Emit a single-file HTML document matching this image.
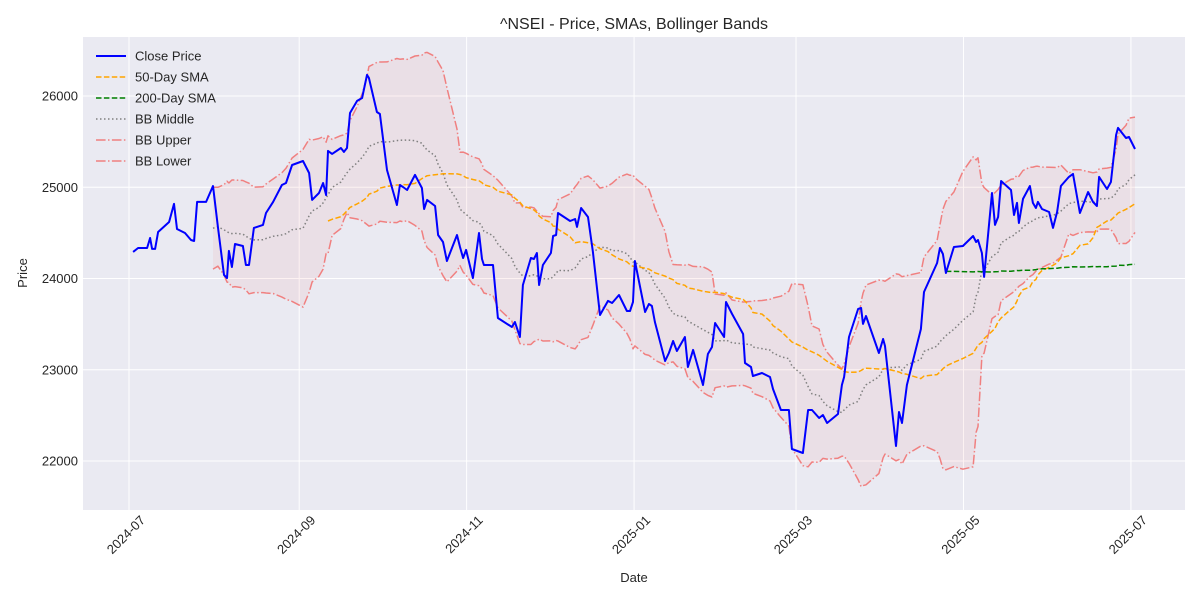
<!DOCTYPE html>
<html><head><meta charset="utf-8"><style>
body{margin:0;background:#fff;}
svg{display:block;font-family:"Liberation Sans","DejaVu Sans",sans-serif;}
</style></head><body>
<svg id="chart" width="1200" height="600" viewBox="0 0 1200 600">
<rect x="83" y="37" width="1102" height="473" fill="#eaeaf2"/>
<g id="grid"></g>
<g id="series"></g>
<g id="axes"></g>
<text x="634" y="29" text-anchor="middle" font-size="16" fill="#262626">^NSEI - Price, SMAs, Bollinger Bands</text>
<text x="634" y="582" text-anchor="middle" font-size="13" fill="#262626">Date</text>
<text transform="translate(27,273) rotate(-90)" text-anchor="middle" font-size="13" fill="#262626">Price</text>
<g id="legend"></g>
</svg>
<script>
const dayOffsets=[1.5,3.3,6.6,7.7,8.4,9.5,10.6,14.6,16.4,17.5,20.4,22.6,23.7,24.8,28.1,30.6,32.4,34.6,35.7,36.4,37.5,38.6,41.5,42.6,43.7,45.5,48.8,49.9,52.5,55.7,57.2,59.4,63.4,65.6,66.7,69.2,70.7,71.8,72.5,74.0,77.2,78.3,79.4,80.5,83.1,84.9,86.7,87.4,90.3,91.4,94.0,97.6,98.7,99.8,101.3,104.2,106.7,107.5,108.6,111.5,112.6,114.4,115.8,119.5,120.6,121.7,122.8,125.3,127.5,128.6,129.3,132.6,134.4,139.5,140.6,142.4,143.5,146.4,147.5,148.6,149.4,150.8,153.7,154.5,155.6,156.3,160.7,162.5,163.2,164.7,167.2,169.0,171.6,174.5,176.0,178.5,181.4,182.5,183.6,184.3,188.0,189.4,190.5,191.6,195.3,196.7,198.2,199.6,202.5,203.6,205.5,209.1,210.9,212.4,213.5,216.8,217.5,219.7,223.7,224.4,226.6,227.3,230.6,233.5,234.6,237.5,240.4,241.5,245.5,247.4,248.8,251.4,252.8,254.3,258.3,259.7,260.5,262.3,265.6,266.7,267.4,268.5,273.2,274.7,275.4,279.4,280.5,281.6,283.4,288.5,289.6,294.4,295.4,296.5,297.6,300.5,303.8,307.5,308.6,309.3,310.7,311.5,314.4,315.5,316.6,317.7,321.3,322.4,323.5,324.2,325.7,328.2,329.3,330.4,331.1,332.6,335.2,336.6,338.1,339.5,342.4,343.9,346.4,349.4,351.2,352.6,353.4,356.3,357.7,359.6,360.3,363.2,364.3,366.5];
const closePrices=[24291,24334,24334,24444,24324,24324,24510,24619,24817,24543,24499,24422,24411,24839,24839,25014,24565,24039,24006,24302,24126,24378,24356,24148,24148,24554,24587,24718,24839,25025,25047,25244,25288,25156,24861,24937,25047,24915,25398,25365,25430,25387,25430,25814,25946,25978,26231,26198,25825,25803,25189,24806,25025,25003,24970,25135,24992,24762,24861,24795,24477,24400,24192,24477,24345,24225,24313,24006,24499,24214,24148,24148,23567,23469,23523,23359,23929,24225,24214,24280,23929,24148,24280,24466,24477,24718,24630,24652,24565,24773,24674,24291,23600,23754,23732,23819,23644,23644,23743,24192,23633,23721,23699,23523,23096,23184,23315,23206,23359,23030,23217,22833,23173,23249,23512,23359,23743,23611,23392,23074,23030,22932,22964,22921,22789,22559,22559,22132,22088,22559,22559,22471,22504,22416,22515,22833,22921,23359,23666,23677,23502,23589,23184,23337,23260,22164,22537,22416,22833,23447,23852,24170,24334,24269,24060,24345,24356,24466,24400,24422,24280,24017,24937,24587,24674,25069,24970,24696,24828,24608,24872,25014,24828,24773,24839,24762,24729,24554,24729,25014,25113,25146,24718,24948,24839,24795,25113,24981,25058,25573,25650,25540,25551,25419];
const yTicks=[22000,23000,24000,25000,26000];
const xTickLabels=["2024-07","2024-09","2024-11","2025-01","2025-03","2025-05","2025-07"];
const xTickDays=[0,62,123,184,243,304,365];
const windowDays={bb:29,sma50:71,sma200:296};

const NS="http://www.w3.org/2000/svg";
const X=d=>129+d*2.745;
const Y=v=>461-(v-22000)*0.09125;
function mk(tag,attrs,parent){const e=document.createElementNS(NS,tag);for(const k in attrs)e.setAttribute(k,attrs[k]);parent.appendChild(e);return e;}
const grid=document.getElementById('grid'),axes=document.getElementById('axes'),series=document.getElementById('series'),legend=document.getElementById('legend');

yTicks.forEach(v=>{
 const l=mk('line',{x1:83,x2:1185,y1:Y(v),y2:Y(v),stroke:'#fff','stroke-width':1},grid);
 
 
 const t=mk('text',{x:78,y:Y(v)+4.5,'text-anchor':'end','font-size':13,fill:'#262626'},axes);
 t.textContent=v;
 
 
});
xTickDays.forEach((d,i)=>{
 const l=mk('line',{x1:X(d),x2:X(d),y1:37,y2:510,stroke:'#fff','stroke-width':1},grid);
 
 
 const tx=X(d)+17,ty=521;
 const t=mk('text',{x:tx,y:ty,'text-anchor':'end','font-size':13,fill:'#262626',transform:`rotate(-45 ${tx} ${ty})`},axes);
 t.textContent=xTickLabels[i];
 
 
});

function rolling(win){
 const mean=[],sd=[];
 for(let i=0;i<dayOffsets.length;i++){
  if(dayOffsets[i]-dayOffsets[0]<win){mean.push(null);sd.push(null);continue;}
  const vals=[];
  for(let j=i;j>=0&&dayOffsets[i]-dayOffsets[j]<win;j--)vals.push(closePrices[j]);
  const m=vals.reduce((a,b)=>a+b,0)/vals.length;
  const s=Math.sqrt(vals.reduce((a,b)=>a+(b-m)*(b-m),0)/Math.max(1,vals.length-1));
  mean.push(m);sd.push(s);
 }
 return {mean,sd};
}
const bb=rolling(windowDays.bb),s50=rolling(windowDays.sma50).mean,s200=rolling(windowDays.sma200).mean;
const bbUp=bb.mean.map((m,i)=>m==null?null:m+2*bb.sd[i]);
const bbLo=bb.mean.map((m,i)=>m==null?null:m-2*bb.sd[i]);
function pts(arr){const p=[];arr.forEach((v,i)=>{if(v!=null)p.push(X(dayOffsets[i]).toFixed(1)+','+Y(v).toFixed(1));});return p;}

const up=pts(bbUp),lo=pts(bbLo);
const fill=mk('polygon',{points:up.concat(lo.slice().reverse()).join(' '),fill:'#f08080','fill-opacity':0.1,stroke:'none'},series);



const defs=[
 {arr:closePrices,stroke:'#0000ff',w:2,dash:'',name:'close-price-line',label:'Close Price'},
 {arr:s50,stroke:'#ffa500',w:1.5,dash:'5.5,2.4',name:'sma-50-line',label:'50-Day SMA'},
 {arr:s200,stroke:'#008000',w:1.5,dash:'5.5,2.4',name:'sma-200-line',label:'200-Day SMA'},
 {arr:bb.mean,stroke:'#808080',w:1.5,dash:'1.5,2.5',name:'bb-middle-line',label:'BB Middle'},
 {arr:bbUp,stroke:'#f08080',w:1.5,dash:'9.6,2.4,1.5,2.4',name:'bb-upper-line',label:'BB Upper'},
 {arr:bbLo,stroke:'#f08080',w:1.5,dash:'9.6,2.4,1.5,2.4',name:'bb-lower-line',label:'BB Lower'}
];
const order=[3,4,5,1,2,0];
order.forEach(k=>{
 const d=defs[k];
 const p=mk('polyline',{points:pts(d.arr).join(' '),fill:'none',stroke:d.stroke,'stroke-width':d.w,'stroke-dasharray':d.dash,'stroke-linejoin':'round'},series);
 
 
});
defs.forEach((d,i)=>{
 const y=56+i*21;
 const g=mk('g',{},legend);
 
 
 mk('line',{x1:96,x2:126,y1:y,y2:y,stroke:d.stroke,'stroke-width':d.w,'stroke-dasharray':d.dash},g);
 const t=mk('text',{x:135,y:y+4.5,'font-size':13,fill:'#262626'},g);
 t.textContent=d.label;
});
</script>
</body></html>
